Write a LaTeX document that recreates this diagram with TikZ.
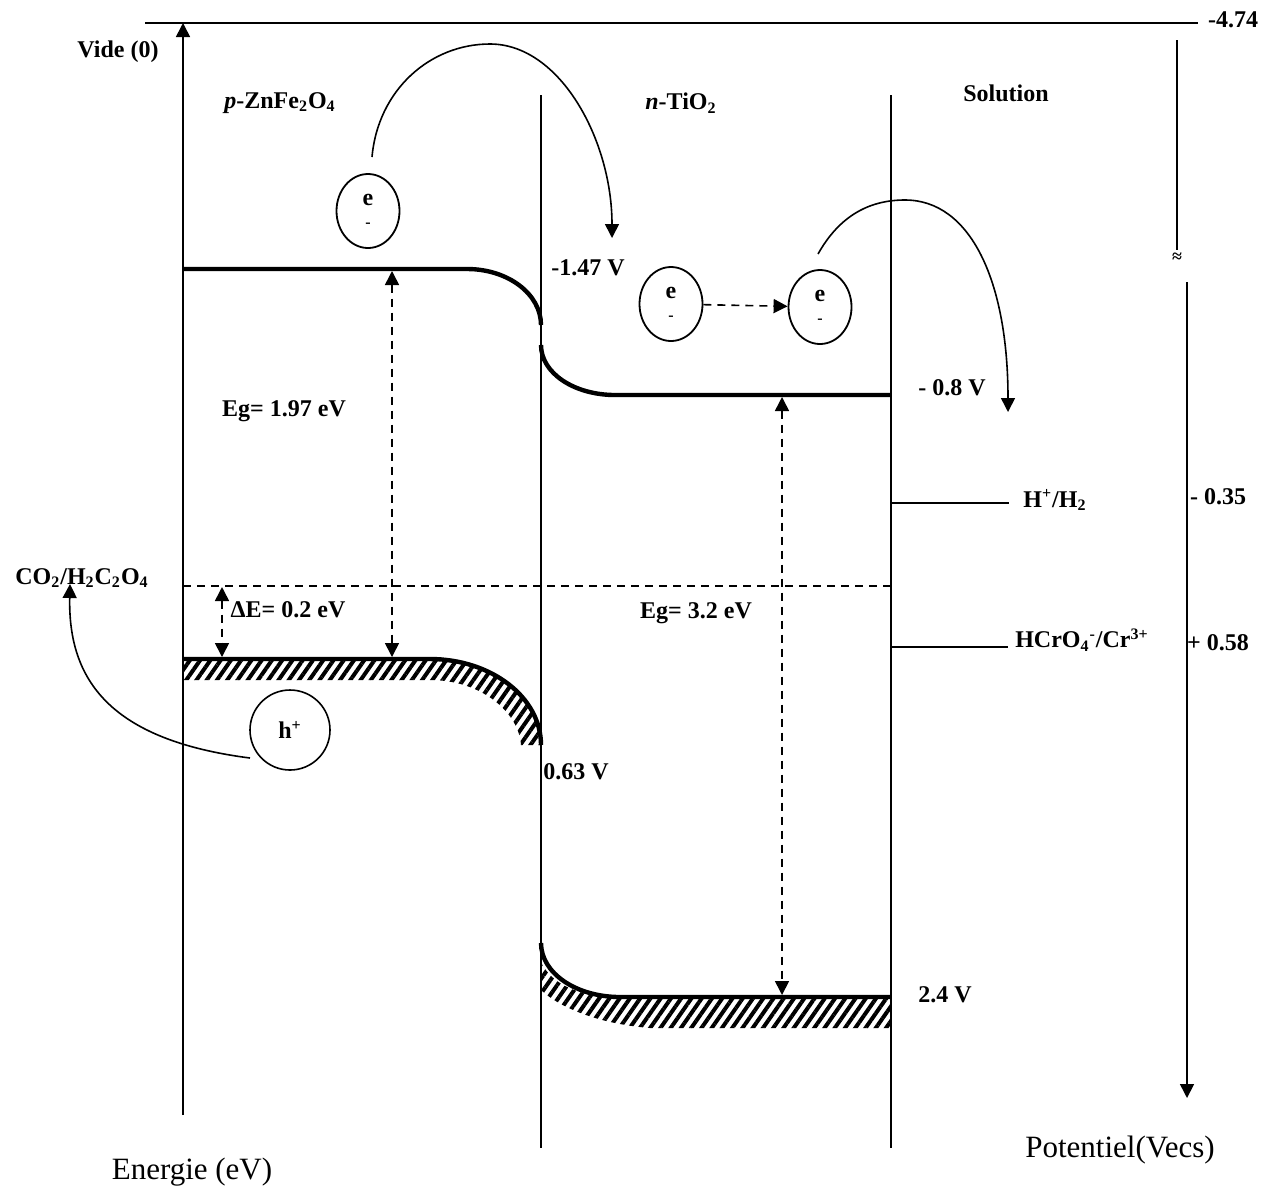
\documentclass[tikz,border=0pt]{standalone}
\usepackage{fontspec}
\setmainfont{Liberation Serif}
\usetikzlibrary{arrows.meta,patterns.meta,shapes.geometric}
\tikzset{
  elec/.style={draw,ellipse,line width=0.9pt,minimum width=31.5pt,minimum height=37pt,inner sep=0pt,align=center},
  hole/.style={draw,circle,line width=0.8pt,minimum size=40pt,inner sep=0pt},
  band/.style={line width=2.2pt},
  hatch/.style={pattern={Lines[angle=55,distance=4.2pt,line width=2pt]}},
  dsh/.style={dash pattern=on 4pt off 3pt},
  plain/.style={font=\fontsize{15.5}{18}\selectfont\mdseries}
}
\begin{document}
\begin{tikzpicture}[x=0.5pt,y=-0.5pt,>={Triangle[length=7pt,width=7pt]},line join=round,line width=0.8pt,font=\fontsize{12}{14}\selectfont\bfseries]
\useasboundingbox (0,0) rectangle (1272,1195);
\path (183,1115) coordinate (E0) (183,23) coordinate (E1)
      (145,23) coordinate (T0) (1198,23) coordinate (T1)
      (1177,40) coordinate (V0) (1177,250) coordinate (V1)
      (1187,282) coordinate (V2) (1187,1098) coordinate (V3);
% axes
\draw[->] (E0) -- (E1);
\draw (T0) -- (T1);
\draw (V0) -- (V1);
\draw[->] (V2) -- (V3);
\node (cut) at (1177,258) {\fontsize{9}{9}\selectfont ≈};
\foreach \x in {541,891}{\draw (\x,95) -- (\x,1148);}
% bandes
\fill[hatch] (183,659) -- (430,659) .. controls (491,659) and (541,697) .. (541,745)
   -- (521,745) .. controls (519,713) and (482,680) .. (430,680) -- (183,680) -- cycle;
\fill[hatch] (541,962) .. controls (552,985) and (580,997) .. (620,997) -- (891,997)
   -- (891,1028) -- (650,1028) .. controls (600,1024) and (560,1008) .. (541,990) -- cycle;
\draw[band] (183,269) -- (467,269) .. controls (508,269) and (541,294) .. (541,325);
\draw[band] (541,345) .. controls (541,373) and (574,395) .. (615,395) -- (891,395);
\draw[band] (183,659) -- (430,659) .. controls (491,659) and (541,697) .. (541,745);
\draw[band] (541,943) .. controls (541,973) and (576,997) .. (620,997) -- (891,997);
% niveaux
\draw[dsh] (183,586) -- (891,586);
\draw (891,503) -- (1009,503);
\draw (891,647) -- (1008,647);
\draw[<->,dsh] (392,271) -- (392,657);
\draw[<->,dsh] (222,587) -- (222,657);
\draw[<->,dsh] (782,397) -- (782,995);
% porteurs
\node[elec] (e1) at (368,211) {e\\[-3pt]{\fontsize{8}{8}\selectfont -}};
\node[elec] (e2) at (671,304) {e\\[-3pt]{\fontsize{8}{8}\selectfont -}};
\node[elec] (e3) at (820,307) {e\\[-3pt]{\fontsize{8}{8}\selectfont -}};
\node[hole] (h1) at (290,730) {h\textsuperscript{+}};
\path (372,157) coordinate (s1) (612,238) coordinate (t1)
      (818,254) coordinate (s2) (1008,412) coordinate (t2)
      (250,758) coordinate (s3) (70,584) coordinate (t3);
\draw[->] (s1) .. controls (378,90) and (430,44) .. (490,44) .. controls (560,44) and (612,140) .. (t1);
\draw[->] (s2) .. controls (840,215) and (870,200) .. (905,200) .. controls (970,200) and (1008,280) .. (t2);
\draw[->,dsh] (e2) -- (e3);
% textes
\node (vide) at (118,52) {Vide (0)};
\node (top) at (1233,20) {-4.74};
\node (pzn) at (280,103) {\textit{p}-ZnFe\textsubscript{2}O\textsubscript{4}};
\node (nti) at (681,103) {\textit{n}-TiO\textsubscript{2}};
\node (sol) at (1006,93) {Solution};
\node (v1) at (588,268) {-1.47 V};
\node (v2) at (952,388) {- 0.8 V};
\node (v3) at (576,772) {0.63 V};
\node (v4) at (945,995) {2.4 V};
\node (eg1) at (284,411) {Eg= 1.97 eV};
\node (eg2) at (696,613) {Eg= 3.2 eV};
\node (de) at (288,610) {ΔE= 0.2 eV};
\node (co2) at (82,578) {CO\textsubscript{2}/H\textsubscript{2}C\textsubscript{2}O\textsubscript{4}};
\node (hh) at (1055,500) {H\textsuperscript{+}/H\textsubscript{2}};
\node (cr) at (1082,640) {HCrO\textsubscript{4}\textsuperscript{-}/Cr\textsuperscript{3+}};
\node (p1) at (1218,497) {- 0.35};
\node (p2) at (1218,643) {+ 0.58};
\node[plain] (ener) at (192,1172) {Energie (eV)};
\node[plain] (pot) at (1120,1150) {Potentiel(Vecs)};
\draw[->] (s3) .. controls (110,740) and (68,680) .. (t3);
\end{tikzpicture}
\end{document}
